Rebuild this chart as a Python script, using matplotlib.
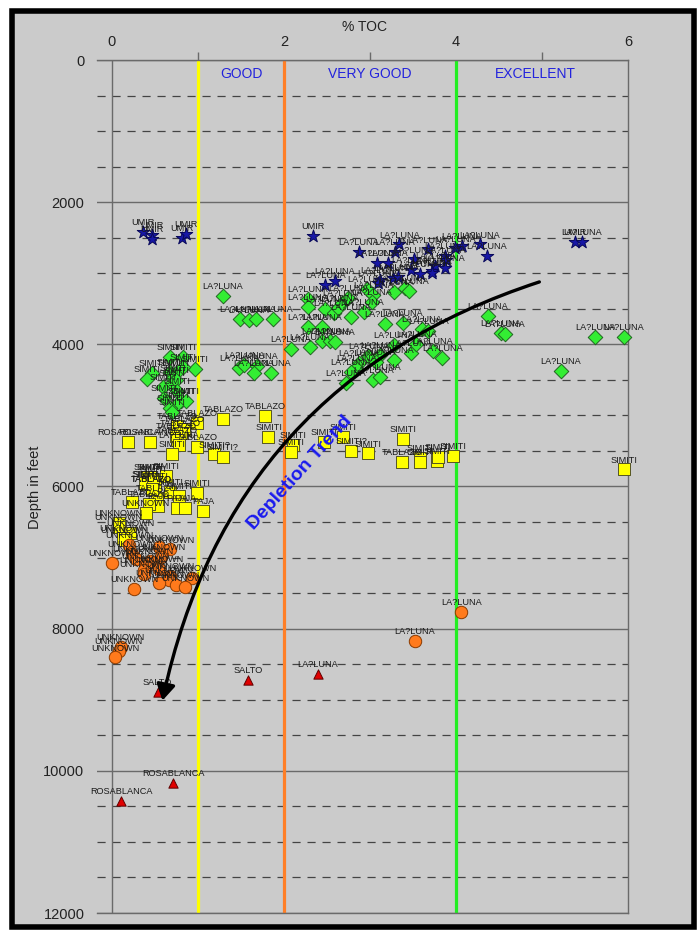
import matplotlib
matplotlib.use("Agg")
import matplotlib.pyplot as plt
from matplotlib.patches import Rectangle, FancyArrowPatch
from matplotlib.ticker import MultipleLocator

plt.rcParams['font.family'] = ['Liberation Sans', 'DejaVu Sans']

# ---------------- data ----------------
star_toc = [0.36, 0.46, 0.46, 0.81, 0.86, 2.34, 3.34, 4.28, 4.07, 3.99, 3.67, 2.87, 3.29, 4.36,
            3.87, 3.51, 3.88, 3.08, 3.21, 3.76, 3.87, 3.48, 3.72, 3.58, 3.72, 3.27, 3.33, 3.12,
            3.09, 2.59, 2.48, 5.38, 5.46]
star_depth = [2415, 2460, 2520, 2500, 2450, 2470, 2595, 2595, 2615, 2650, 2665, 2705, 2705, 2755,
              2755, 2805, 2815, 2850, 2850, 2900, 2920, 2955, 2965, 3010, 3000, 3070, 3055, 3095,
              3135, 3110, 3165, 2555, 2565]
star_label = ['UMIR'] * 6 + ['LA?LUNA'] * 25 + ['UMIR', 'LA?LUNA']

green_toc = [1.29, 1.49, 1.59, 1.67, 1.87, 2.28, 2.28, 2.48, 2.28, 2.44, 2.08, 2.30, 2.44, 2.54,
             0.68, 0.83, 0.96, 0.46, 0.41, 0.68, 0.75, 0.83, 0.71,
             1.48, 1.54, 1.69, 1.65, 1.85,
             0.59, 0.70, 0.75, 0.76, 0.61, 0.80, 0.86, 0.74, 0.68, 0.70,
             2.97, 3.04, 3.28, 3.41, 3.45, 2.58, 2.63, 2.68, 2.75, 3.02, 2.93, 2.78, 4.37,
             3.17, 3.38, 4.52, 4.57, 5.62, 5.95, 2.59, 3.60, 3.68, 3.28, 3.48, 3.73, 3.84,
             3.54, 2.98, 3.12, 2.87, 3.07, 3.28, 2.84, 2.78, 3.04, 3.12, 2.72, 5.22]
green_depth = [3316, 3644, 3658, 3644, 3644, 3367, 3471, 3508, 3761, 3752, 4066, 4042, 3949, 3949,
               4183, 4183, 4352, 4399, 4488, 4385, 4408, 4323, 4478,
               4329, 4291, 4305, 4408, 4408,
               4596, 4549, 4502, 4652, 4760, 4793, 4797, 4854, 4900, 4947,
               3222, 3306, 3268, 3202, 3250, 3564, 3493, 3423, 3353, 3399, 3550, 3611, 3597,
               3714, 3696, 3845, 3859, 3892, 3901, 3972, 3789, 3813, 4010, 4118, 4094, 4197,
               3995, 4160, 4150, 4267, 4253, 4220, 4338, 4385, 4502, 4464, 4540, 4375]
green_label = (['LA?LUNA'] * 14 + ['SIMITI'] * 9 + ['LA?LUNA'] * 5 + ['SIMITI'] * 10
               + ['LA?LUNA'] * 38)

yellow_toc = [1.29, 1.78, 0.99, 0.76, 0.84, 0.80, 0.75, 0.76, 0.78, 0.19, 0.44, 0.99, 0.70,
              1.19, 1.29, 1.82, 2.10, 2.08, 2.46, 2.69, 2.78, 2.98, 3.38, 3.37, 3.58, 3.58,
              3.78, 3.79, 3.97, 5.95,
              0.63, 0.44, 0.39, 0.46, 0.50, 0.68, 0.78, 0.99, 0.52, 0.54, 0.43, 0.23, 0.39,
              0.76, 0.85, 1.06, 0.08, 0.08, 0.21, 0.13, 0.15, 0.41, 0.38, 0.48, 0.46]
yellow_depth = [5051, 5004, 5102, 5149, 5196, 5252, 5290, 5346, 5416, 5370, 5370, 5449, 5543,
                5548, 5590, 5299, 5416, 5510, 5370, 5299, 5501, 5534, 5332, 5651, 5604, 5651,
                5637, 5590, 5571, 5759,
                5853, 5871, 5965, 6036, 5993, 6073, 6129, 6096, 6157, 6275, 6246, 6214, 6368,
                6307, 6307, 6340, 6509, 6565, 6650, 6729, 6753, 5862, 5956, 5899, 6031]
yellow_label = ['TABLAZO', 'TABLAZO', 'TABLAZO', 'TABLAZO', 'TABLAZO', 'TABLAZO', 'TABLAZO',
                'TABLAZO', 'LA?LUNA', 'ROSABLANCA', 'ROSABLANCA', 'TABLAZO', 'SIMITI',
                'SIMITI?', 'SIMITI?', 'SIMITI', 'SIMITI', 'SIMITI', 'SIMITI', 'SIMITI',
                'SIMITI?', 'SIMITI', 'SIMITI', 'TABLAZO', 'SIMITI', 'SIMITI', 'SIMITI',
                'SIMITI', 'SIMITI', 'SIMITI',
                'SIMITI', 'SIMITI', 'SIMITI', 'TABLAZO', 'SIMITI', 'SIMITI', 'SIMITI', 'SIMITI',
                'TABLAZO', 'PAJA', 'TABLAZO', 'TABLAZO', 'UNKNOWN', 'PAJA', 'PAJA', 'PAJA',
                'UNKNOWN', 'UNKNOWN', 'UNKNOWN', 'UNKNOWN', 'UNKNOWN', 'SIMITI', 'SIMITI',
                'SIMITI', 'TABLAZO']

orange_toc = [0.20, 0.55, 0.68, 0.23, 0.57, 0.28, 0.00, 0.44, 0.39, 0.37, 0.55, 0.37, 0.68,
              0.66, 0.93, 0.55, 0.74, 0.85, 0.26, 0.10, 0.08, 0.04, 4.06, 3.52]
orange_depth = [6823, 6857, 6885, 6950, 6988, 7025, 7081, 7049, 7119, 7175, 7165, 7236, 7260,
                7316, 7292, 7353, 7386, 7419, 7442, 8254, 8315, 8404, 7770, 8174]
orange_label = ['UNKNOWN'] * 22 + ['LA?LUNA', 'LA?LUNA']

red_toc = [0.53, 1.58, 2.39, 0.71, 0.11]
red_depth = [8887, 8723, 8638, 10167, 10420]
red_label = ['SALTO', 'SALTO', 'LA?LUNA', 'ROSABLANCA', 'ROSABLANCA']

zone_x = [1, 2, 4]
zone_colors = ['#ffff00', '#ff7f27', '#22ee22']
zone_names = ['GOOD', 'VERY GOOD', 'EXCELLENT']
zone_name_x = [1.5, 3.0, 4.92]

x_tick_labels = [0, 2, 4, 6]
y_ticks = [0, 2000, 4000, 6000, 8000, 10000, 12000]

# ---------------- figure ----------------
W, H = 697, 930
GRAY = '#cbcbcb'
fig = plt.figure(figsize=(W / 100, H / 100), dpi=100, facecolor='white')
frame = Rectangle((12 / W, 3 / H), (W - 15) / W, (H - 14) / H, transform=fig.transFigure,
                  facecolor=GRAY, edgecolor='black', linewidth=4.0, zorder=-10)
fig.add_artist(frame)

ax = fig.add_axes([97 / W, 1 - 913 / H, (628 - 97) / W, (913 - 60) / H])
ax.set_zorder(1)
ax.set_facecolor(GRAY)
ax.set_xlim(-0.174, 6)
ax.set_ylim(12000, 0)

for s in ['top', 'right', 'bottom']:
    ax.spines[s].set_color('#6a6a6a')
    ax.spines[s].set_linewidth(1.0)
ax.spines['left'].set_visible(False)

ax.xaxis.tick_top()
ax.set_xticks(x_tick_labels)
ax.set_xticklabels([str(v) for v in x_tick_labels])
ax.set_xticks([1, 3, 5], minor=True)
ax.tick_params(axis='x', which='major', length=0, pad=8, labelsize=10.5, colors='#222222')
ax.tick_params(axis='x', which='minor', length=6, width=1, color='#6a6a6a', top=True, bottom=False)

ax.set_yticks(y_ticks)
ax.yaxis.set_minor_locator(MultipleLocator(500))
ax.tick_params(axis='y', which='major', length=0, pad=9, labelsize=10.5, colors='#222222')
ax.tick_params(axis='y', which='minor', length=0)
ax.grid(True, axis='y', which='major', color='#6a6a6a', linewidth=1.0, linestyle='-')
ax.grid(True, axis='y', which='minor', color='#444444', linewidth=0.9, linestyle=(0, (6.5, 5.5)))
ax.set_axisbelow(True)

ax.axvline(0, color='#6a6a6a', linewidth=1.0, zorder=1)
for xv, c in zip(zone_x, zone_colors):
    ax.axvline(xv, color=c, linewidth=2.3, zorder=2)
for name, xv in zip(zone_names, zone_name_x):
    ax.text(xv, 200, name, ha='center', va='center', color='#2323dd', fontsize=10)

fig.text(365 / W, 1 - 27 / H, '% TOC', ha='center', va='center', fontsize=10, color='#222222')
fig.text(35 / W, 1 - 487 / H, 'Depth in feet', ha='center', va='center', rotation=90,
         fontsize=10.5, color='#222222')

series = [
    (star_toc, star_depth, star_label, '*', '#1717a6', '#08085a', 90),
    (green_toc, green_depth, green_label, 'D', '#33ee33', '#226622', 55),
    (yellow_toc, yellow_depth, yellow_label, 's', '#ffff00', '#555522', 75),
    (orange_toc, orange_depth, orange_label, 'o', '#ff7a1c', '#8a3a00', 80),
    (red_toc, red_depth, red_label, '^', '#e00000', '#600000', 45),
]
z = 5
for xs, ys, labs, mk, fc, ec, sz in series:
    ax.scatter(xs, ys, marker=mk, s=sz, facecolor=fc, edgecolor=ec, linewidth=0.7, zorder=z,
               clip_on=False)
    for xv, yv, lb in zip(xs, ys, labs):
        ax.annotate(lb, (xv, yv), xytext=(0, 3.5), textcoords='offset points', ha='center',
                    va='bottom', fontsize=6.6, color='#1a1a1a', zorder=z + 1,
                    annotation_clip=False)
    z += 2

# depletion trend annotation
arrow = FancyArrowPatch((5.0, 3110), (0.58, 9050), connectionstyle='arc3,rad=0.29',
                        arrowstyle='-|>,head_length=6,head_width=3.5', color='black',
                        linewidth=2.4, zorder=20, mutation_scale=1.6)
ax.add_patch(arrow)
ax.text(2.18, 5800, 'Depletion Trend', rotation=48, ha='center', va='center', color='#1a1aee',
        fontsize=14, fontweight='bold', zorder=21)

fig.savefig('out.png', dpi=100, facecolor='white')
